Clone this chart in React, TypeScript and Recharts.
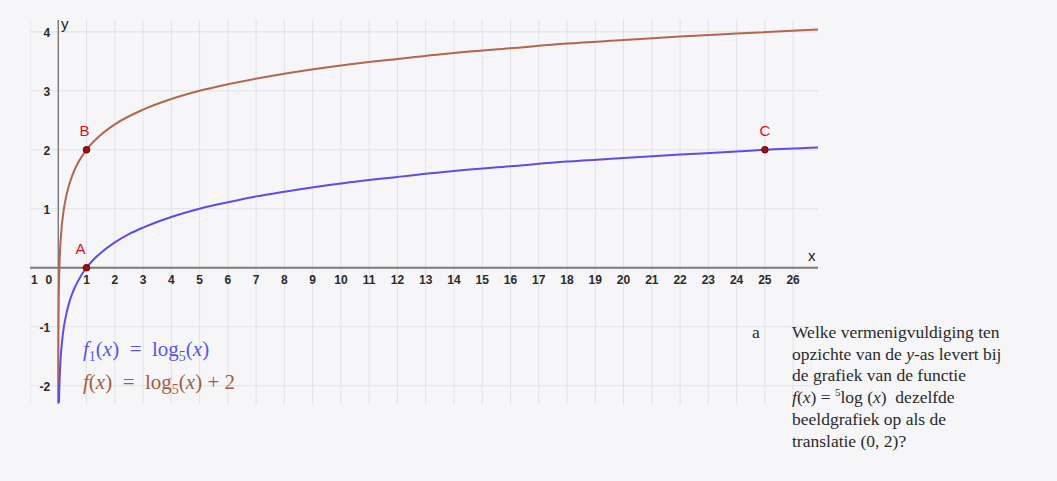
import React from 'react';
import { LineChart, Line, XAxis, YAxis, ReferenceLine, ReferenceDot } from 'recharts';

const xGrid = [-1, 0, 1, 2, 3, 4, 5, 6, 7, 8, 9, 10, 11, 12, 13, 14, 15, 16, 17, 18, 19, 20, 21, 22, 23, 24, 25, 26];
const yGrid = [-2, -1, 0, 1, 2, 3, 4];
const xTickValues = [-1, 0, 1, 2, 3, 4, 5, 6, 7, 8, 9, 10, 11, 12, 13, 14, 15, 16, 17, 18, 19, 20, 21, 22, 23, 24, 25, 26];
// the "-1" label is shown cut at the left edge of the view, only "1" is visible
const xTickLabels = ['1', '0', '1', '2', '3', '4', '5', '6', '7', '8', '9', '10', '11', '12', '13', '14', '15', '16', '17', '18', '19', '20', '21', '22', '23', '24', '25', '26'];
const yTickValues = [-2, -1, 1, 2, 3, 4];
const yTickLabels = ['-2', '-1', '1', '2', '3', '4'];

// f1(x) = log5(x)
const f1X = [0.025, 0.035, 0.05, 0.075, 0.1, 0.15, 0.2, 0.3, 0.4, 0.5, 0.6, 0.8, 1, 1.25, 1.5, 2, 2.5, 3, 4, 5, 6, 7, 8, 10, 12, 14, 16, 18, 20, 22, 24, 25, 26.88];
const f1Y = [-2.29, -2.08, -1.86, -1.61, -1.43, -1.18, -1.0, -0.75, -0.57, -0.43, -0.32, -0.14, 0, 0.14, 0.25, 0.43, 0.57, 0.68, 0.86, 1.0, 1.11, 1.21, 1.29, 1.43, 1.54, 1.64, 1.72, 1.8, 1.86, 1.92, 1.97, 2.0, 2.04];

// f(x) = log5(x) + 2
const fX = [0.001, 0.002, 0.004, 0.007, 0.01, 0.02, 0.04, 0.07, 0.1, 0.2, 0.3, 0.5, 0.7, 1, 1.5, 2, 3, 4, 5, 6, 8, 10, 12, 14, 16, 18, 20, 22, 24, 26.88];
const fY = [-2.29, -1.86, -1.43, -1.08, -0.86, -0.43, 0.0, 0.35, 0.57, 1.0, 1.25, 1.57, 1.78, 2.0, 2.25, 2.43, 2.68, 2.86, 3.0, 3.11, 3.29, 3.43, 3.54, 3.64, 3.72, 3.8, 3.86, 3.92, 3.97, 4.04];

const pointNames = ['A', 'B', 'C'];
const pointX = [1, 1, 25];
const pointY = [0, 2, 2];

const questionLines = [
  'Welke vermenigvuldiging ten',
  'opzichte van de y-as levert bij',
  'de grafiek van de functie',
  'f(x) = 5log (x)  dezelfde',
  'beeldgrafiek op als de',
  'translatie (0, 2)?',
];

const f1Data = f1X.map((x, i) => ({ x, y: f1Y[i] }));
const fData = fX.map((x, i) => ({ x, y: fY[i] }));

const BG = '#f6f6f8';
const BLUE = '#5a4ee6';
const BROWN = '#b3664e';
const TICK_FONT = '"Liberation Sans", Arial, sans-serif';

export default function App() {
  const serif = '"Liberation Serif", "DejaVu Serif", serif';
  const sub = { fontSize: 14, position: 'relative' as const, top: 5 };
  return (
    <div style={{ position: 'absolute', left: 0, top: 0, width: 1057, height: 481, background: BG, overflow: 'hidden' }}>
      <div style={{ position: 'absolute', left: 30, top: 0 }}>
        <LineChart width={1027} height={481} margin={{ top: 20, right: 239, bottom: 77, left: 0 }}>
          <XAxis type="number" dataKey="x" domain={[-1, 26.88]} allowDataOverflow hide />
          <YAxis type="number" dataKey="y" domain={[-2.31, 4.2]} allowDataOverflow hide />
          {xGrid.map((v) => (
            <ReferenceLine key={'gx' + v} x={v} stroke="#e2e2e6" strokeWidth={1} />
          ))}
          {yGrid.map((v) => (
            <ReferenceLine key={'gy' + v} y={v} stroke="#e2e2e6" strokeWidth={1} />
          ))}
          <ReferenceLine y={0} stroke="#7a7a7a" strokeWidth={2} />
          <ReferenceLine x={0} stroke="#666" strokeWidth={1.2} />
          {xTickValues.map((v, i) => (
            <ReferenceDot
              key={'tx' + v}
              x={v}
              y={0}
              r={0}
              shape={(p: any) => (
                <text
                  x={v === 0 ? p.cx - 6 : v === -1 ? p.cx + 1 : p.cx}
                  y={p.cy + 16}
                  textAnchor={v === 0 ? 'end' : v === -1 ? 'start' : 'middle'}
                  fontFamily={TICK_FONT}
                  fontSize={12}
                  fontWeight="bold"
                  fill="#2a2a2a"
                >
                  {xTickLabels[i]}
                </text>
              )}
            />
          ))}
          {yTickValues.map((v, i) => (
            <ReferenceDot
              key={'ty' + v}
              x={0}
              y={v}
              r={0}
              shape={(p: any) => (
                <text x={p.cx - 8} y={p.cy + 5} textAnchor="end" fontFamily={TICK_FONT} fontSize={12} fontWeight="bold" fill="#2a2a2a">
                  {yTickLabels[i]}
                </text>
              )}
            />
          ))}
          <Line data={fData} dataKey="y" type="monotone" stroke={BROWN} strokeWidth={2} dot={false} isAnimationActive={false} />
          <Line data={f1Data} dataKey="y" type="monotone" stroke={BLUE} strokeWidth={2} dot={false} isAnimationActive={false} />
          {pointNames.map((n, i) => (
            <ReferenceDot
              key={'p' + n}
              x={pointX[i]}
              y={pointY[i]}
              r={0}
              shape={(p: any) => (
                <g>
                  <circle cx={p.cx} cy={p.cy} r={3.3} fill="#a01010" stroke="#6a0000" strokeWidth={1} />
                  <text
                    x={n === 'A' ? p.cx - 6 : n === 'B' ? p.cx - 2 : p.cx}
                    y={p.cy - 14}
                    textAnchor="middle"
                    fontFamily={TICK_FONT}
                    fontSize={15}
                    fill="#d81020"
                  >
                    {n}
                  </text>
                </g>
              )}
            />
          ))}
        </LineChart>
      </div>
      <div style={{ position: 'absolute', left: 808, top: 247, fontFamily: TICK_FONT, fontSize: 15, color: '#222' }}>x</div>
      <div style={{ position: 'absolute', left: 61, top: 15, fontFamily: TICK_FONT, fontSize: 15, color: '#222' }}>y</div>

      <div style={{ position: 'absolute', left: 83, top: 337, fontFamily: serif, fontSize: 21, color: '#5656e0', whiteSpace: 'pre', lineHeight: '24px' }}>
        <i>f</i><span style={sub}>1</span>(<i>x</i>)  =  log<span style={sub}>5</span>(<i>x</i>)
      </div>
      <div style={{ position: 'absolute', left: 83, top: 370, fontFamily: serif, fontSize: 21, color: '#a85a40', whiteSpace: 'pre', lineHeight: '24px' }}>
        <i>f</i>(<i>x</i>)  =  log<span style={sub}>5</span>(<i>x</i>) + 2
      </div>

      <div style={{ position: 'absolute', left: 752, top: 322, fontFamily: serif, fontSize: 17.5, color: '#2a2a2a', lineHeight: '21.7px' }}>a</div>
      <div style={{ position: 'absolute', left: 792, top: 322, fontFamily: serif, fontSize: 17.5, color: '#2a2a2a', lineHeight: '21.7px', whiteSpace: 'pre' }}>
        <div>{questionLines[0]}</div>
        <div>opzichte van de <i>y</i>-as levert bij</div>
        <div>{questionLines[2]}</div>
        <div>
          <i>f</i>(<i>x</i>) = <sup style={{ fontSize: 11, lineHeight: 0 }}>5</sup>log (<i>x</i>)  dezelfde
        </div>
        <div>{questionLines[4]}</div>
        <div>{questionLines[5]}</div>
      </div>
    </div>
  );
}
